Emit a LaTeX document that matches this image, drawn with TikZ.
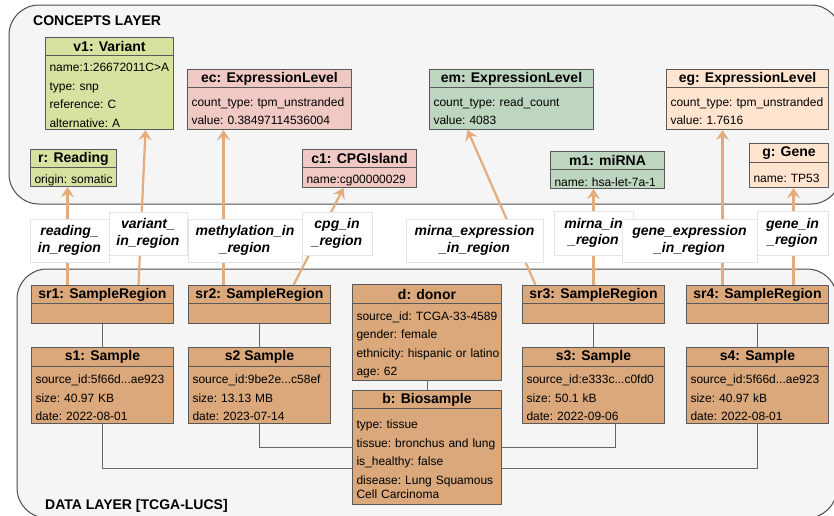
\documentclass[tikz,border=0pt]{standalone}
\usepackage{fontspec}
\setmainfont{Liberation Sans}
\usetikzlibrary{arrows.meta}

\definecolor{layerfill}{HTML}{F5F5F5}
\definecolor{layerline}{HTML}{4D4D4D}
\definecolor{boxline}{HTML}{5A5A5A}
\definecolor{variantgreen}{HTML}{D6E2A0}
\definecolor{methpink}{HTML}{F0C9C4}
\definecolor{mirnagreen}{HTML}{BED6C0}
\definecolor{genepeach}{HTML}{FFE4CF}
\definecolor{datatan}{HTML}{DAA87B}
\definecolor{linkorange}{HTML}{E2AC7D}
\definecolor{wiregray}{HTML}{666666}
\definecolor{labelline}{HTML}{E4E4E4}

% UML-like object box: name, fill, x1, y1, x2, y of header bottom, y2, title, body
\newcommand\umlbox[9]{%
  \pgfmathsetmacro\umlw{#5-#3}%
  \pgfmathsetmacro\umltw{#5-#3-8}%
  \pgfmathsetmacro\umlhh{#6-#4}%
  \pgfmathsetmacro\umlbh{#7-#6}%
  \node[hdr, fill=#2, minimum width=\umlw pt, minimum height=\umlhh pt] (#1h) at (#3,#4) {#8};
  \node[bdy, fill=#2, minimum width=\umlw pt, minimum height=\umlbh pt, text width=\umltw pt] (#1b) at (#3,#6) {#9};
}

\begin{document}
\begin{tikzpicture}[x=1pt,y=-1pt,
  layer/.style={draw=layerline, fill=layerfill, line width=1pt, rounded corners=30pt},
  hdr/.style={draw=boxline, line width=1pt, anchor=north west, inner sep=0pt,
    font=\bfseries\fontsize{14}{16}\selectfont},
  bdy/.style={draw=boxline, line width=1pt, anchor=north west, inner xsep=4pt, inner ysep=0pt,
    align=left, font=\fontsize{12}{18.5}\selectfont,
    execute at begin node={\frenchspacing\hyphenpenalty=10000\exhyphenpenalty=10000\rule{0pt}{14.5pt}}},
  linklabel/.style={draw=labelline, fill=white, line width=0.6pt, inner sep=0pt, align=center,
    font=\bfseries\itshape\fontsize{14}{16.5}\selectfont},
  link/.style={draw=linkorange, line width=2.2pt, -{Stealth[length=10pt,width=13pt,inset=3.5pt]}},
  wire/.style={draw=wiregray, line width=1pt},
  layertitle/.style={anchor=base west, inner sep=0pt, font=\bfseries\fontsize{14}{16}\selectfont}
]
\useasboundingbox (0,0) rectangle (834,515);
\clip (0,0) rectangle (834,515);

% the two layers
\draw[layer] (9,5) rectangle (841,204);
\draw[layer] (17,269) rectangle (837,518);
\node[layertitle] (concepts) at (33,25) {CONCEPTS LAYER};
\node[layertitle] (datalayer) at (45,509) {DATA LAYER [TCGA-LUCS]};

% concepts
\umlbox{v1}{variantgreen}{45}{37}{173}{55}{129}{v1: Variant}{name:1:26672011C>A\\type: snp\\reference: C\\alternative: A}
\umlbox{r}{variantgreen}{30}{149}{116}{167}{186}{r: Reading}{origin:~somatic}
\umlbox{ec}{methpink}{187}{69}{351}{87}{129}{ec: ExpressionLevel}{count\_type:~tpm\_unstranded\\value: 0.38497114536004}
\umlbox{c1}{methpink}{302}{149}{416}{167}{187}{c1: CPGIsland}{name:cg00000029}
\umlbox{em}{mirnagreen}{429}{69}{593}{87}{129}{em: ExpressionLevel}{count\_type: read\_count\\value: 4083}
\umlbox{m1}{mirnagreen}{550}{151}{664}{169}{188}{m1: miRNA}{name: hsa-let-7a-1}
\umlbox{eg}{genepeach}{666}{69}{828}{87}{129}{eg: ExpressionLevel}{count\_type:~tpm\_unstranded\\value: 1.7616}
\umlbox{g}{genepeach}{749}{143}{828}{162}{187}{g: Gene}{name: TP53}

% data
\umlbox{sr1}{datatan}{31}{285}{173}{303}{323}{sr1: SampleRegion}{}
\umlbox{sr2}{datatan}{188}{285}{330}{303}{323}{sr2: SampleRegion}{}
\umlbox{sr3}{datatan}{522}{285}{664}{303}{323}{sr3: SampleRegion}{}
\umlbox{sr4}{datatan}{686}{285}{828}{303}{323}{sr4: SampleRegion}{}
\umlbox{s1}{datatan}{31}{347}{173}{366}{423}{s1: Sample}{source\_id:5f66d...ae923\\size: 40.97 KB\\date: 2022-08-01}
\umlbox{s2}{datatan}{188}{347}{330}{366}{423}{s2 Sample}{source\_id:9be2e...c58ef\\size: 13.13 MB\\date: 2023-07-14}
\umlbox{s3}{datatan}{522}{347}{664}{366}{423}{s3: Sample}{source\_id:e333c...c0fd0\\size: 50.1 kB\\date: 2022-09-06}
\umlbox{s4}{datatan}{686}{347}{828}{366}{423}{s4: Sample}{source\_id:5f66d...ae923\\size: 40.97 kB\\date: 2022-08-01}
\umlbox{d}{datatan}{352}{284}{501}{303}{380}{d: donor}{source\_id:~TCGA-33-4589\\gender: female\\ethnicity:~hispanic~or~latino\\age: 62}
\umlbox{b}{datatan}{352}{390}{501}{408}{504}{b: Biosample}{type: tissue\\tissue:~bronchus~and~lung\\is\_healthy: false\\disease: Lung Squamous\\[-4.5pt]Cell Carcinoma}

% structural wires in the data layer
\draw[wire] (sr1b.south) -- (s1h.north);
\draw[wire] (sr2b.south) -- (s2h.north);
\draw[wire] (sr3b.south) -- (s3h.north);
\draw[wire] (sr4b.south) -- (s4h.north);
\draw[wire] (db.south) -- (bh.north);
\draw[wire] (s2b.south) |- ([yshift=9pt]bb.west);
\draw[wire] (s1b.south) |- ([yshift=-12pt]bb.west);
\draw[wire] ([yshift=9pt]bb.east) -| ([xshift=22pt]s3b.south);
\draw[wire] ([yshift=-12pt]bb.east) -| (s4b.south);

% region links up to the concepts
\draw[link] ([xshift=-35pt]sr1h.north) -- ([xshift=-6pt]rb.south);
\draw[link] ([xshift=36pt]sr1h.north) -- ([xshift=36pt]v1b.south);
\draw[link] ([xshift=-36pt]sr2h.north) -- ([xshift=-46pt]ecb.south);
\draw[link] ([xshift=34pt]sr2h.north) -- ([xshift=-16pt]c1b.south);
\draw[link] ([xshift=-58pt]sr3h.north) -- ([xshift=-44pt]emb.south);
\draw[link] (sr3h.north) -- ([xshift=-14pt]m1b.south);
\draw[link] ([xshift=-35pt]sr4h.north) -- ([xshift=-25pt]egb.south);
\draw[link] ([xshift=36pt]sr4h.north) -- ([xshift=4.5pt]gb.south);

% link labels
\node[linklabel, minimum width=79pt, minimum height=43pt] (lread) at (69.5,240.5) {reading\_\\in\_region};
\node[linklabel, minimum width=78pt, minimum height=43pt] (lvar) at (148,233.5) {variant\_\\in\_region};
\node[linklabel, minimum width=114pt, minimum height=43pt] (lmeth) at (245,240.5) {methylation\_in\\\_region};
\node[linklabel, minimum width=70pt, minimum height=43pt] (lcpg) at (337,233.5) {cpg\_in\\\_region};
\node[linklabel, minimum width=137pt, minimum height=43pt] (lmexp) at (474.5,240.5) {mirna\_expression\\\_in\_region};
\node[linklabel, minimum width=79pt, minimum height=44pt] (lmir) at (593.5,233) {mirna\_in\\\_region};
\node[linklabel, minimum width=135pt, minimum height=43pt] (lgexp) at (689.5,240.5) {gene\_expression\\\_in\_region};
\node[linklabel, minimum width=71pt, minimum height=44pt] (lgene) at (792.5,233) {gene\_in\\\_region};
\end{tikzpicture}
\end{document}
